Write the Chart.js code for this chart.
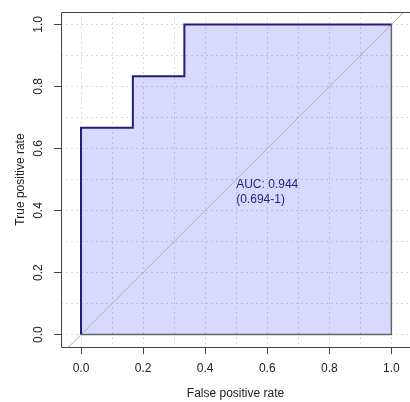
<!DOCTYPE html>
<html>
<head>
<meta charset="utf-8">
<script src="https://cdn.jsdelivr.net/npm/chart.js@4"></script>
<style>
  html, body { margin: 0; padding: 0; background: #fff; overflow: hidden; }
  #wrap { width: 410px; height: 402px; }
</style>
</head>
<body>
<div id="wrap"><canvas id="roc"></canvas></div>
<script>
// ROC curve points (false positive rate / true positive rate)
const fpr = [0, 0, 0.167, 0.167, 0.333, 0.333, 1];
const tpr = [0, 0.667, 0.667, 0.833, 0.833, 1, 1];
// chance line
const diagX = [-0.1, 1.1];
const diagY = [-0.1, 1.1];
// grid every 0.1, labelled ticks every 0.2
const gridValues = [0, 0.1, 0.2, 0.3, 0.4, 0.5, 0.6, 0.7, 0.8, 0.9, 1.0];
const tickValues = [0, 0.2, 0.4, 0.6, 0.8, 1.0];
const tickLabels = ['0.0', '0.2', '0.4', '0.6', '0.8', '1.0'];
const aucLines = ['AUC: 0.944', '(0.694-1)'];
const aucPos = { x: 0.5, y: 0.5 };

const FONT = "'Liberation Sans', Arial, sans-serif";
const labelFor = v => {
  const i = tickValues.findIndex(t => Math.abs(t - v) < 1e-6);
  return i >= 0 ? tickLabels[i] : '';
};

// box, rotated y labels and AUC text
const extras = {
  id: 'extras',
  afterDatasetsDraw(chart) {
    const { ctx, chartArea: a, scales } = chart;
    ctx.save();
    ctx.strokeStyle = '#444';
    ctx.lineWidth = 1;
    ctx.beginPath();
    ctx.moveTo(Math.round(a.right) + 0.5, Math.round(a.top) + 0.5);
    ctx.lineTo(Math.round(a.left) + 0.5, Math.round(a.top) + 0.5);
    ctx.lineTo(Math.round(a.left) + 0.5, Math.round(a.bottom) + 0.5);
    ctx.lineTo(Math.round(a.right) + 0.5, Math.round(a.bottom) + 0.5);
    ctx.stroke();

    ctx.fillStyle = '#222';
    ctx.font = '12px ' + FONT;
    ctx.textAlign = 'center';
    ctx.textBaseline = 'middle';
    tickValues.forEach((v, i) => {
      const py = scales.y.getPixelForValue(v);
      ctx.save();
      ctx.translate(39, py);
      ctx.rotate(-Math.PI / 2);
      ctx.fillText(tickLabels[i], 0, 0);
      ctx.restore();
    });

    ctx.fillStyle = '#1f1f78';
    ctx.textAlign = 'left';
    const tx = scales.x.getPixelForValue(aucPos.x);
    const ty = scales.y.getPixelForValue(aucPos.y);
    aucLines.forEach((t, i) => ctx.fillText(t, tx, ty + 5 + i * 15));
    ctx.restore();
  }
};

function gridTicks(scale) {
  scale.ticks = gridValues.map(v => ({ value: v }));
}

const ctx = document.getElementById('roc');
new Chart(ctx, {
  type: 'line',
  data: {
    datasets: [{
      data: fpr.map((x, i) => ({ x: x, y: tpr[i] })),
      borderColor: '#1f1f7a',
      borderWidth: 2,
      backgroundColor: 'rgba(0, 0, 255, 0.15)',
      fill: { value: 0 },
      pointRadius: 0,
      tension: 0
    }, {
      // closing edge of the shaded area
      data: [
        { x: fpr[fpr.length - 1], y: tpr[tpr.length - 1] },
        { x: fpr[fpr.length - 1], y: tpr[0] },
        { x: fpr[0], y: tpr[0] }
      ],
      borderColor: '#666',
      borderWidth: 1.5,
      fill: false,
      pointRadius: 0
    }, {
      data: diagX.map((x, i) => ({ x: x, y: diagY[i] })),
      borderColor: '#aaaaaa',
      borderWidth: 1,
      fill: false,
      pointRadius: 0
    }]
  },
  options: {
    responsive: true,
    maintainAspectRatio: false,
    animation: false,
    layout: { padding: { top: 12, right: 0, bottom: 0, left: 0 } },
    plugins: {
      legend: { display: false },
      tooltip: { enabled: false },
      filler: { drawTime: 'beforeDatasetsDraw' }
    },
    scales: {
      x: {
        type: 'linear',
        min: -0.0645,
        max: 1.06,
        afterBuildTicks: gridTicks,
        afterFit: s => { s.height = 55; },
        grid: {
          color: '#dcdcdc',
          tickLength: 7,
          tickColor: c => labelFor(c.tick.value) ? '#444' : 'rgba(0,0,0,0)',
          tickBorderDash: []
        },
        border: { display: false, dash: [2, 3] },
        ticks: {
          autoSkip: false,
          maxRotation: 0,
          padding: 7,
          color: '#222',
          font: { family: FONT, size: 12 },
          callback: v => labelFor(v)
        },
        title: {
          display: true,
          text: 'False positive rate',
          color: '#222',
          font: { family: FONT, size: 12 },
          padding: { top: 0, bottom: 1 }
        }
      },
      y: {
        type: 'linear',
        min: -0.04,
        max: 1.04,
        afterBuildTicks: gridTicks,
        afterFit: s => { s.width = 61; },
        grid: {
          color: '#dcdcdc',
          tickLength: 7,
          tickColor: c => labelFor(c.tick.value) ? '#444' : 'rgba(0,0,0,0)',
          tickBorderDash: []
        },
        border: { display: false, dash: [2, 3] },
        ticks: { display: false },
        title: {
          display: true,
          text: 'True positive rate',
          color: '#222',
          font: { family: FONT, size: 12 },
          padding: { top: 13, bottom: 0 }
        }
      }
    }
  },
  plugins: [extras]
});
</script>
</body>
</html>
